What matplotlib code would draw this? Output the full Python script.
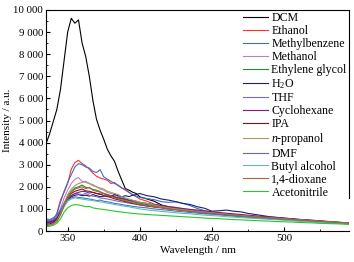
import numpy as np
import matplotlib
matplotlib.use('Agg')
import matplotlib.pyplot as plt
from matplotlib.ticker import MultipleLocator, FuncFormatter

plt.rcParams['font.family'] = ['Liberation Serif', 'DejaVu Serif']
plt.rcParams['mathtext.fontset'] = 'custom'
plt.rcParams['mathtext.rm'] = 'Liberation Serif'
plt.rcParams['mathtext.it'] = 'Liberation Serif:italic'

# wavelength grid: 2.5 nm up to 400, then 5 nm
wl = np.r_[np.arange(335, 400.1, 2.5), np.arange(405, 546, 5)]

dcm = [3950, 4400, 4950, 5500, 6400, 7700, 9000, 9620, 9400, 9550, 8500, 7900, 7000, 5900,
       5050, 4560, 4150, 3700, 3400, 3150, 2700, 2300, 1920, 1850, 1760, 1700, 1550,
       1450, 1350, 1180, 1100, 1020, 960, 900, 870, 820, 790, 760, 730, 690, 660, 640,
       610, 580, 560, 540, 520, 490, 470, 450, 430, 410, 390, 370, 350, 330]
ethanol = [450, 430, 520, 800, 1400, 1750, 2150, 2800, 3100, 3200, 3050, 2950, 2800, 2620,
           2480, 2400, 2350, 2300, 2150, 2200, 2050, 1950, 1900, 1750, 1650, 1550, 1450,
           1350, 1220, 1150, 1100, 1060, 990, 960, 900, 880, 830, 800, 760, 730, 700, 660,
           640, 610, 580, 560, 540, 520, 490, 470, 450, 420, 400, 380, 360, 340]
methylbenzene = [420, 460, 500, 760, 1300, 1800, 2200, 2550, 2900, 3050, 3000, 2900, 2850,
                 2700, 2650, 2780, 2450, 2350, 2250, 2150, 2080, 1950, 1850, 1750, 1650,
                 1580, 1520, 1470, 1420, 1330, 1300, 1320, 1250, 1150, 1020, 920, 860, 820,
                 780, 740, 720, 680, 650, 620, 600, 570, 550, 520, 500, 480, 460, 430, 410,
                 390, 370, 350]
methanol = [300, 320, 380, 550, 1000, 1500, 1850, 2150, 2350, 2420, 2250, 2200, 2150, 2050,
            2000, 1900, 1850, 1750, 1700, 1650, 1550, 1500, 1450, 1400, 1350, 1300, 1250,
            1200, 1150, 1100, 1050, 1000, 950, 920, 880, 850, 800, 780, 750, 720, 690, 660,
            630, 600, 580, 560, 540, 510, 490, 470, 450, 430, 400, 380, 360, 340]
ethylene_glycol = [280, 300, 350, 480, 800, 1250, 1600, 1800, 1950, 2000, 2080, 1980, 1950,
                   1880, 1850, 1780, 1700, 1660, 1600, 1540, 1500, 1450, 1420, 1370, 1330,
                   1290, 1250, 1200, 1140, 1100, 1060, 1020, 970, 940, 900, 860, 830, 800,
                   770, 740, 710, 690, 660, 630, 610, 590, 560, 540, 510, 490, 470, 450,
                   430, 400, 380, 360]
h2o = [380, 400, 450, 600, 850, 1150, 1400, 1550, 1620, 1650, 1600, 1620, 1580, 1650, 1600,
       1550, 1580, 1600, 1550, 1650, 1600, 1550, 1600, 1560, 1620, 1650, 1700,
       1600, 1550, 1450, 1400, 1330, 1250, 1200, 1100, 1030, 900, 920, 950, 900, 870,
       800, 750, 700, 650, 620, 590, 560, 530, 500, 470, 450, 420, 400, 370, 350]
thf = [500, 480, 560, 700, 950, 1250, 1500, 1600, 1700, 1680, 1650, 1700, 1620, 1580, 1560,
       1500, 1480, 1450, 1420, 1380, 1350, 1320, 1300, 1260, 1240, 1220, 1200,
       1150, 1100, 1080, 1040, 1000, 960, 930, 900, 870, 840, 810, 780, 750, 720, 690,
       660, 640, 610, 590, 560, 540, 520, 500, 480, 450, 430, 410, 390, 370]
cyclohexane = [350, 380, 420, 560, 850, 1200, 1450, 1600, 1700, 1750, 1800, 1780, 1720,
               1750, 1700, 1650, 1700, 1620, 1600, 1550, 1500, 1480, 1450, 1400, 1380,
               1350, 1300, 1250, 1200, 1150, 1100, 1070, 1020, 980, 950, 910, 880, 840,
               810, 780, 750, 720, 690, 660, 640, 610, 580, 560, 530, 510, 490, 460, 440,
               420, 390, 370]
ipa = [300, 320, 380, 520, 800, 1200, 1500, 1700, 1800, 1850, 1900, 1820, 1800, 1750, 1700,
       1680, 1600, 1560, 1520, 1460, 1420, 1380, 1330, 1300, 1250, 1220, 1180,
       1130, 1090, 1050, 1000, 970, 930, 900, 870, 830, 800, 780, 750, 720, 690, 670,
       640, 610, 590, 570, 550, 520, 500, 480, 460, 440, 410, 390, 370, 350]
n_propanol = [260, 280, 330, 460, 780, 1250, 1650, 1900, 2050, 2150, 2200, 2250, 2150,
              2100, 2000, 1950, 1900, 1800, 1750, 1700, 1650, 1550, 1500, 1450, 1400,
              1350, 1300, 1250, 1180, 1100, 1050, 1000, 960, 920, 880, 860, 820, 790,
              760, 730, 700, 680, 650, 620, 600, 580, 560, 530, 510, 490, 460, 440, 420,
              400, 380, 360]
dmf = [550, 520, 600, 720, 950, 1200, 1400, 1500, 1550, 1520, 1500, 1480, 1450, 1420, 1380,
       1400, 1350, 1320, 1300, 1250, 1230, 1200, 1170, 1150, 1120, 1100, 1080,
       1050, 1000, 970, 940, 900, 870, 840, 810, 780, 760, 730, 700, 680, 650, 630,
       610, 590, 570, 550, 530, 510, 490, 470, 450, 430, 410, 390, 370, 350]
butyl_alcohol = [250, 270, 320, 450, 750, 1100, 1350, 1450, 1500, 1480, 1450, 1420, 1400,
                 1380, 1350, 1320, 1300, 1260, 1240, 1200, 1180, 1150, 1120, 1100, 1060,
                 1040, 1000, 960, 920, 890, 860, 830, 800, 780, 750, 720, 700, 680, 650,
                 630, 610, 590, 570, 550, 530, 510, 490, 470, 450, 430, 410, 390, 370,
                 350, 340, 320]
dioxane = [240, 270, 320, 430, 720, 1150, 1500, 1750, 1900, 1950, 2000, 1920, 1980, 1850,
           1800, 1760, 1700, 1620, 1580, 1500, 1460, 1400, 1380, 1320, 1280, 1250, 1200,
           1150, 1100, 1060, 1000, 970, 930, 900, 860, 830, 800, 770, 750, 720, 690, 670,
           640, 620, 600, 570, 550, 530, 500, 480, 460, 440, 420, 400, 370, 350]
acetonitrile = [200, 220, 260, 350, 550, 850, 1050, 1150, 1200, 1180, 1150, 1100, 1120, 1050,
                1020, 1000, 980, 950, 930, 900, 880, 860, 840, 820, 800, 790, 770,
                750, 730, 710, 690, 670, 650, 630, 610, 590, 570, 560, 540, 520, 510, 490,
                480, 460, 450, 430, 420, 410, 390, 380, 370, 350, 340, 330, 320, 300]

series = [
    ("DCM", dcm, "black"),
    ("Ethanol", ethanol, "#ff3030"),
    ("Methylbenzene", methylbenzene, "#3a6fd0"),
    ("Methanol", methanol, "#c07ec8"),
    ("Ethylene glycol", ethylene_glycol, "#1f8a3a"),
    ("H$_2$O", h2o, "#1e1e6e"),
    ("THF", thf, "#7b68c8"),
    ("Cyclohexane", cyclohexane, "#7a1f7a"),
    ("IPA", ipa, "#8b1010"),
    ("$n$-propanol", n_propanol, "#a89a5a"),
    ("DMF", dmf, "#4a72c4"),
    ("Butyl alcohol", butyl_alcohol, "#5abcbc"),
    ("1,4-dioxane", dioxane, "#a0683a"),
    ("Acetonitrile", acetonitrile, "#2ec42e"),
]

fig = plt.figure(figsize=(3.54, 2.62), dpi=100)
ax = fig.add_axes([0.130, 0.118, 0.856, 0.844])

for name, vals, col in series:
    ax.plot(wl, vals, color=col, lw=0.8, label=name)

ax.set_xlim(335, 545)
ax.set_ylim(0, 10000)
ax.xaxis.set_major_locator(MultipleLocator(50))
ax.xaxis.set_minor_locator(MultipleLocator(25))
ax.yaxis.set_major_locator(MultipleLocator(1000))
ax.yaxis.set_minor_locator(MultipleLocator(500))
ax.yaxis.set_major_formatter(FuncFormatter(lambda v, p: "{:,.0f}".format(v).replace(",", " ")))
ax.tick_params(which='both', direction='in', labelsize=7.8, pad=2)
ax.tick_params(which='major', length=3)
ax.tick_params(which='minor', length=1.5)
# right border only runs down to the legend
ax.spines['right'].set_bounds(1500, 10000)

ax.set_xlabel("Wavelength / nm", fontsize=8, labelpad=2)
ax.set_ylabel("Intensity / a.u.", fontsize=8, labelpad=1)

leg = ax.legend(loc='upper right', fontsize=8.6, frameon=False,
                borderaxespad=0.05, handlelength=2.1, labelspacing=0.08, handletextpad=0.25,
                borderpad=0.15)

fig.savefig("out.png", dpi=100)
